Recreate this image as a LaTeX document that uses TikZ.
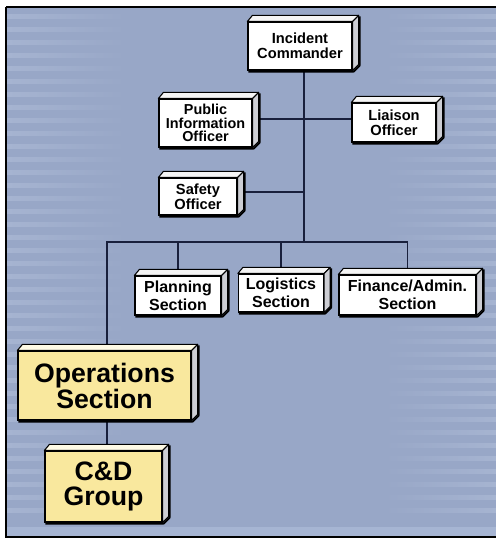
\documentclass[tikz,border=0pt]{standalone}
\usepackage{fontspec}
\setmainfont{Liberation Sans}
\usetikzlibrary{calc}
\definecolor{bgblue}{RGB}{152,167,199}
\definecolor{stripe}{RGB}{166,180,209}
\definecolor{bottomstrip}{RGB}{166,181,211}
\definecolor{linecol}{RGB}{25,32,60}
\definecolor{ybox}{RGB}{249,232,158}
\definecolor{ytop}{RGB}{255,251,230}
\definecolor{wtop}{RGB}{245,245,245}
\definecolor{sidegray}{RGB}{205,206,212}
\pgfdeclarelayer{bg}\pgfdeclarelayer{lines}\pgfsetlayers{bg,lines,main}
\tikzset{
  frontbox/.style={draw=black, line width=0.9pt, inner sep=0pt, align=center, text=black},
  conn/.style={draw=linecol, line width=1.1pt},
  facebox/.style={draw=black, line width=0.8pt, line join=round},
}
% name, cx, cy, w, h, fill, topfill, font, text
\newcommand\tdbox[9]{%
  \node[frontbox, fill=#6, font={\bfseries#8}, minimum width=#4*0.75pt, minimum height=#5*0.75pt] (#1) at (#2,#3) {#9};
  \filldraw[facebox, fill=#7] (#1.north west) -- ($(#1.north west)+(5,-6)$) -- ($(#1.north east)+(6,-6)$) -- (#1.north east) -- cycle;
  \filldraw[facebox, fill=sidegray] (#1.north east) -- ($(#1.north east)+(6,-6)$) -- ($(#1.south east)+(6,-6)$) -- (#1.south east) -- cycle;
  \draw[line width=1.4pt, black, line join=round] ($(#1.south west)+(1,1)$) -- ($(#1.south east)+(1,1)$) -- ($(#1.south east)+(7,-5)$) -- ($(#1.north east)+(7,-5)$);
}
\begin{document}
\begin{tikzpicture}[x=0.75pt, y=-0.75pt]
\useasboundingbox (0,0) rectangle (496,540);
\begin{pgfonlayer}{bg}
  \fill[white] (0,0) rectangle (496,540);
  \fill[bgblue] (6,7) rectangle (496,537);
  \foreach \yy in {14,27,...,520} {
    \shade[left color=stripe, right color=bgblue] (7,\yy) rectangle (125,\yy+4);
    \shade[left color=bgblue, right color=stripe] (385,\yy) rectangle (496,\yy+4);
  }
  \fill[bottomstrip] (7,527) rectangle (496,536);
  \draw[black, line width=1.5pt] (6,7) -- (497,7);
  \draw[black, line width=1.5pt] (6,7) -- (6,537) -- (497,537);
\end{pgfonlayer}

\tdbox{IC}{300}{46}{104}{48}{white}{wtop}{\fontsize{11}{11.5}\selectfont}{Incident\\Commander}
\tdbox{PIO}{205.5}{123}{93}{48}{white}{wtop}{\fontsize{10.8}{10.3}\selectfont}{Public\\Information\\Officer}
\tdbox{Liaison}{394}{122.5}{84}{39}{white}{wtop}{\fontsize{11}{11.5}\selectfont}{Liaison\\Officer}
\tdbox{Safety}{198}{196.5}{78}{37}{white}{wtop}{\fontsize{11}{11.5}\selectfont}{Safety\\Officer}
\tdbox{Planning}{178}{295.5}{86}{39}{white}{wtop}{\fontsize{12}{13.5}\selectfont}{Planning\\Section}
\tdbox{Logistics}{281}{293}{85}{38}{white}{wtop}{\fontsize{12}{13.5}\selectfont}{Logistics\\Section}
\tdbox{Finance}{407.5}{295}{137}{40}{white}{wtop}{\fontsize{12}{13.5}\selectfont}{Finance/Admin.\\Section}
\tdbox{Ops}{104.5}{385.5}{173}{69}{ybox}{ytop}{\fontsize{20}{19.5}\selectfont}{Operations\\Section}
\tdbox{CD}{103.5}{486.5}{117}{71}{ybox}{ytop}{\fontsize{20}{19}\selectfont}{C\&D\\Group}

\coordinate (t1) at (304,242);
\coordinate (h1) at (304,119);
\coordinate (h2) at (304,192);
\coordinate (bl) at (107,242);

\begin{pgfonlayer}{lines}
  \draw[conn] (IC.south -| t1) -- (t1);
  \draw[conn] (PIO.east |- h1) -- (Liaison.west |- h1);
  \draw[conn] (Safety.east |- h2) -- (h2);
  \draw[conn] (Ops.north -| bl) -- (bl) -- (Finance.north |- bl) -- (Finance.north);
  \draw[conn] (Planning.north |- bl) -- (Planning.north);
  \draw[conn] (Logistics.north |- bl) -- (Logistics.north);
  \draw[conn] (Ops.south -| bl) -- (CD.north -| bl);
\end{pgfonlayer}
\end{tikzpicture}
\end{document}
